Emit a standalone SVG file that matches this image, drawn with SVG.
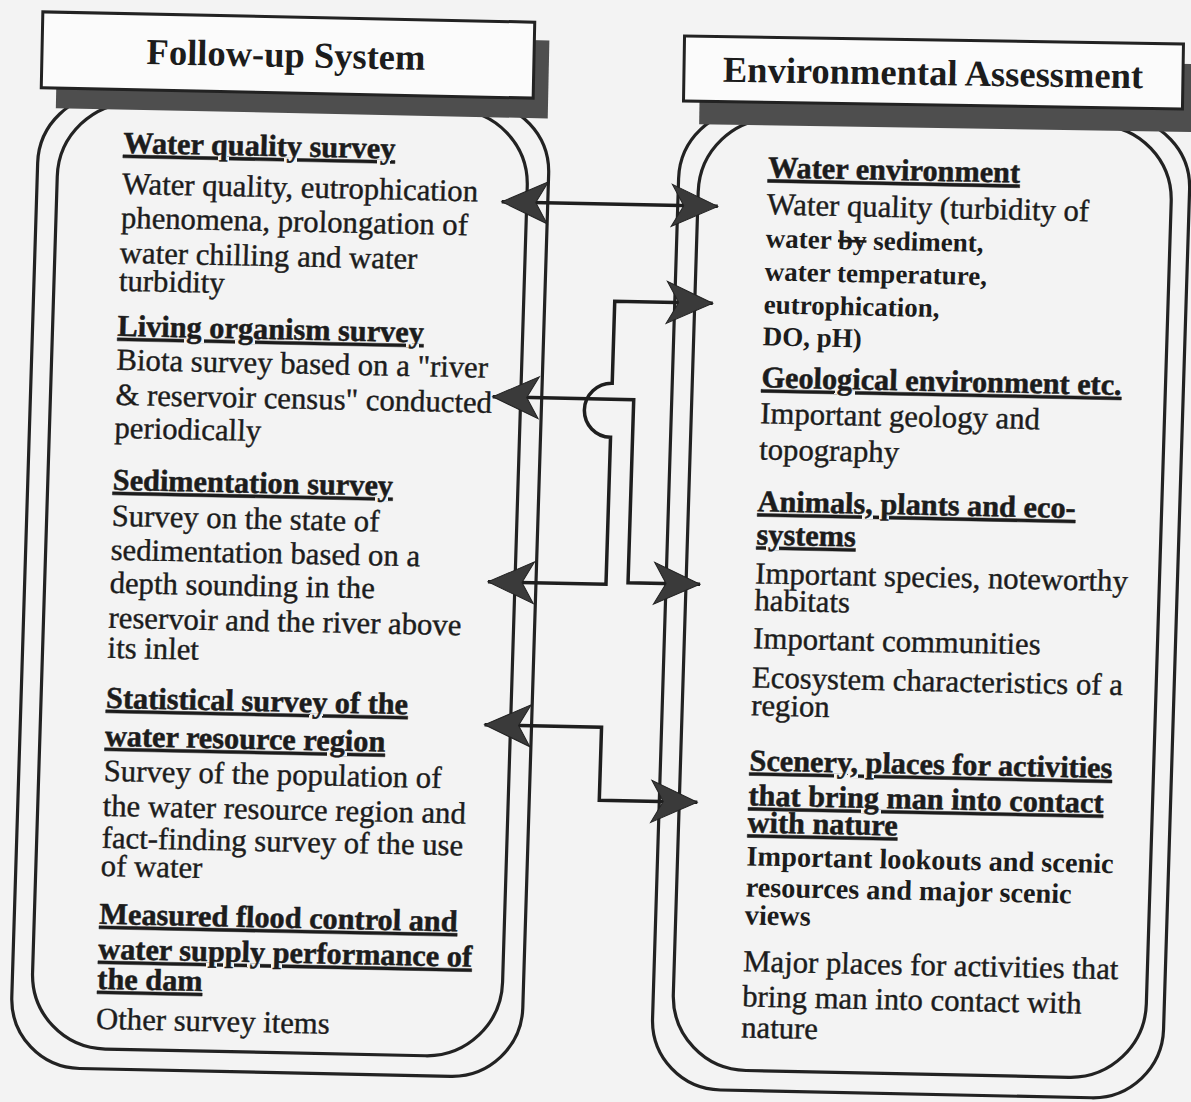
<svg xmlns="http://www.w3.org/2000/svg" width="1191" height="1102" viewBox="0 0 1191 1102">
<style>
  text { font-family: "Liberation Serif", "Times New Roman", serif; fill: #1c1c1c; }
  .b { font-size: 30.7px; stroke: #1c1c1c; stroke-width: 0.4px; }
  .hd { font-size: 30.3px; font-weight: bold; text-decoration: underline; stroke: #1c1c1c; stroke-width: 0.5px; }
  .sb { font-size: 27px; font-weight: bold; }
  .mb { font-size: 28.3px; font-weight: bold; }
  .title { font-size: 36.5px; font-weight: bold; text-anchor: middle; }
  .outline { fill: none; stroke: #222; stroke-width: 3.2; }
  .hbox { fill: #fbfbfb; stroke: #222; stroke-width: 3; }
  .shadow { fill: #4e4e4e; }
  .conn { fill: none; stroke: #1e1e1e; stroke-width: 3.5; marker-start: url(#ah); marker-end: url(#ah); }
</style>
<defs>
  <marker id="ah" viewBox="-48 -23 50 46" refX="0" refY="0" markerWidth="50" markerHeight="46" markerUnits="userSpaceOnUse" orient="auto-start-reverse">
    <path d="M0,0 L-46,-21 L-34,0 L-46,21 Z" fill="#3a3a3a" stroke="#222" stroke-width="1"/>
  </marker>
</defs>
<rect x="0" y="0" width="1191" height="1102" fill="#f3f3f3"/>

<g transform="matrix(1 0.021 -0.031 1 17.081 -12.495)">
  <g id="followup-panel-outline">
    <rect class="outline" x="26" y="105" width="511" height="974" rx="70"/>
    <rect class="outline" x="46" y="113" width="470" height="946" rx="75"/>
  </g>
  <g id="ea-panel-outline">
    <rect class="outline" x="667" y="107" width="511" height="980" rx="70"/>
    <rect class="outline" x="687" y="115" width="473" height="952" rx="75"/>
  </g>
</g>

<g id="followup-header" transform="rotate(1.2 288 55)">
  <rect class="shadow" x="57" y="35" width="492" height="78"/>
  <rect class="hbox" x="42" y="17" width="492" height="76"/>
  <text class="title" x="286" y="67">Follow-up System</text>
</g>

<g id="ea-header" transform="rotate(0.9 933 72)">
  <rect class="shadow" x="700" y="60" width="499" height="68"/>
  <rect class="hbox" x="684" y="40" width="499" height="65"/>
  <text class="title" x="933" y="85">Environmental Assessment</text>
</g>

<g transform="matrix(1 0.021 -0.031 1 17.081 -12.495)">
  <g id="followup-panel">
    <text class="hd" x="111" y="163">Water quality survey</text>
    <text class="b" x="111" y="204">Water quality, eutrophication</text>
    <text class="b" x="111" y="238">phenomena, prolongation of</text>
    <text class="b" x="111" y="273">water chilling and water</text>
    <text class="b" x="111" y="301">turbidity</text>
    <text class="hd" x="111" y="346">Living organism survey</text>
    <text class="b" x="111" y="380">Biota survey based on a "river</text>
    <text class="b" x="111" y="415">&amp; reservoir census" conducted</text>
    <text class="b" x="111" y="448">periodically</text>
    <text class="hd" x="111" y="500">Sedimentation survey</text>
    <text class="b" x="111" y="536">Survey on the state of</text>
    <text class="b" x="111" y="570">sedimentation based on a</text>
    <text class="b" x="111" y="603">depth sounding in the</text>
    <text class="b" x="111" y="638">reservoir and the river above</text>
    <text class="b" x="111" y="668">its inlet</text>
    <text class="hd" x="111" y="718">Statistical survey of the</text>
    <text class="hd" x="111" y="756">water resource region</text>
    <text class="b" x="111" y="791">Survey of the population of</text>
    <text class="b" x="111" y="826">the water resource region and</text>
    <text class="b" x="111" y="858">fact-finding survey of the use</text>
    <text class="b" x="111" y="886">of water</text>
    <text class="hd" x="111" y="934">Measured flood control and</text>
    <text class="hd" x="111" y="969">water supply performance of</text>
    <text class="hd" x="111" y="999">the dam</text>
    <text class="b" x="111" y="1039">Other survey items</text>
  </g>
  <g id="ea-panel">
    <text class="hd" x="756" y="174">Water environment</text>
    <text class="b" x="756" y="211">Water quality (turbidity of</text>
    <text class="sb" x="756" y="244">water <tspan text-decoration="line-through">by</tspan> sediment,</text>
    <text class="sb" x="756" y="277">water temperature,</text>
    <text class="sb" x="756" y="310">eutrophication,</text>
    <text class="sb" x="756" y="342">DO, pH)</text>
    <text class="hd" x="756" y="384">Geological environment etc.</text>
    <text class="b" x="756" y="420">Important geology and</text>
    <text class="b" x="756" y="456">topography</text>
    <text class="hd" x="756" y="508">Animals, plants and eco-</text>
    <text class="hd" x="756" y="541">systems</text>
    <text class="b" x="756" y="580">Important species, noteworthy</text>
    <text class="b" x="756" y="607">habitats</text>
    <text class="b" x="756" y="645">Important communities</text>
    <text class="b" x="756" y="684">Ecosystem characteristics of a</text>
    <text class="b" x="756" y="712">region</text>
    <text class="hd" x="756" y="767">Scenery, places for activities</text>
    <text class="hd" x="756" y="802">that bring man into contact</text>
    <text class="hd" x="756" y="829">with nature</text>
    <text class="mb" x="756" y="862">Important lookouts and scenic</text>
    <text class="mb" x="756" y="893">resources and major scenic</text>
    <text class="mb" x="756" y="921">views</text>
    <text class="b" x="756" y="968">Major places for activities that</text>
    <text class="b" x="756" y="1003">bring man into contact with</text>
    <text class="b" x="756" y="1034">nature</text>
  </g>
  <g id="connectors">
    <path class="conn" d="M491,204 H707"/>
    <path class="conn" d="M489,584 H607 V437 A27,27 0 0 1 607,383 V301 H705"/>
    <path class="conn" d="M488,399 H629 V582 H701"/>
    <path class="conn" d="M490,727 H607 V800 H705"/>
  </g>
</g>
</svg>
